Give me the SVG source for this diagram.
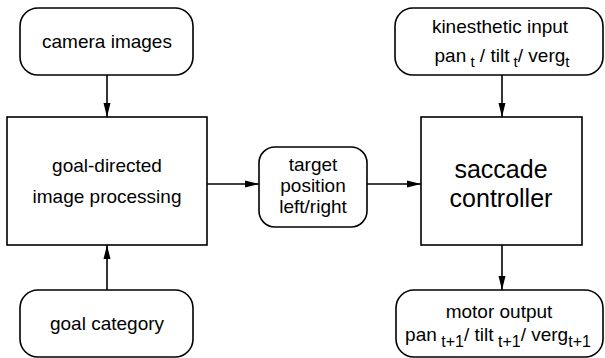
<svg xmlns="http://www.w3.org/2000/svg" width="605" height="358" viewBox="0 0 605 358">
<style>
.box{fill:#fff;stroke:#000;stroke-width:1.6}
.t{font-family:"Liberation Sans",Arial,sans-serif;font-size:19px;fill:#000;text-anchor:middle}
.big{font-size:25px}
.sub{font-size:15px}
.sub2{font-size:16px}
.c{stroke:#000;stroke-width:1.6;fill:none;marker-end:url(#ah)}
</style>
<defs>
<marker id="ah" markerUnits="userSpaceOnUse" markerWidth="14" markerHeight="8" refX="14" refY="4" orient="auto">
<path d="M0,0.5 L14,4 L0,7.5 z" fill="#000"/>
</marker>
</defs>
<g id="connectors">
<line class="c" x1="107" y1="75" x2="107" y2="117"/>
<line class="c" x1="107" y1="290" x2="107" y2="245"/>
<line class="c" x1="207" y1="184" x2="259" y2="184"/>
<line class="c" x1="367" y1="184" x2="421" y2="184"/>
<line class="c" x1="502" y1="75" x2="502" y2="117"/>
<line class="c" x1="502" y1="245" x2="502" y2="290"/>
</g>
<g id="camera">
<rect class="box" x="20" y="8" width="173" height="67" rx="18"/>
<text class="t" x="107" y="48">camera images</text>
</g>
<g id="goalproc">
<rect class="box" x="7" y="117" width="200" height="128"/>
<text class="t" x="107" y="172">goal-directed</text>
<text class="t" x="107" y="203">image processing</text>
</g>
<g id="goalcat">
<rect class="box" x="20" y="290" width="173" height="67" rx="18"/>
<text class="t" x="107" y="330">goal category</text>
</g>
<g id="target">
<rect class="box" x="259" y="147" width="108" height="80" rx="16"/>
<text class="t" x="313" y="171">target</text>
<text class="t" x="313" y="192">position</text>
<text class="t" x="313" y="213">left/right</text>
</g>
<g id="saccade">
<rect class="box" x="421" y="117" width="161" height="128"/>
<text class="t big" x="501" y="178">saccade</text>
<text class="t big" x="501" y="207">controller</text>
</g>
<g id="kin">
<rect class="box" x="395" y="8" width="208" height="67" rx="18"/>
<text class="t" x="500" y="33">kinesthetic input</text>
<text class="t" x="502" y="62">pan<tspan class="sub" dy="5"> t</tspan><tspan dy="-5"> / tilt</tspan><tspan class="sub" dy="5"> t</tspan><tspan dy="-5">/ verg</tspan><tspan class="sub" dy="5">t</tspan></text>
</g>
<g id="motor">
<rect class="box" x="396" y="290" width="207" height="67" rx="18"/>
<text class="t" x="499" y="318">motor output</text>
<text class="t" x="498" y="341">pan<tspan class="sub2" dy="6"> t+1</tspan><tspan dy="-6">/ tilt</tspan><tspan class="sub2" dy="6"> t+1</tspan><tspan dy="-6">/ verg</tspan><tspan class="sub2" dy="6">t+1</tspan></text>
</g>
</svg>
